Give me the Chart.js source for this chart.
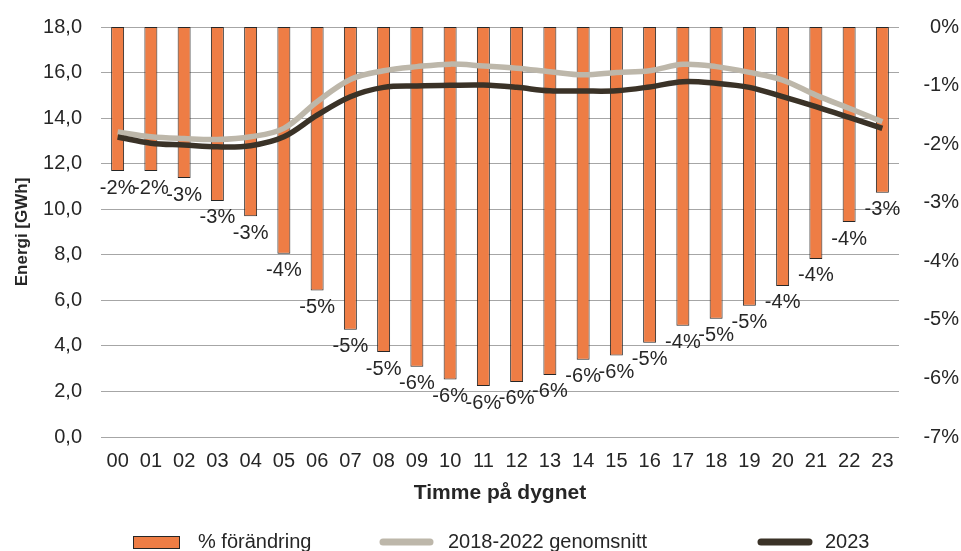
<!DOCTYPE html>
<html>
<head>
<meta charset="utf-8">
<script src="https://cdn.jsdelivr.net/npm/chart.js@4.4.1/dist/chart.umd.min.js"></script>
<style>
  html, body { margin: 0; padding: 0; background: #fff; }
  #wrap { width: 961px; height: 551px; }
</style>
</head>
<body>
<div id="wrap"><canvas id="energyChart"></canvas></div>
<script>
// Energi per timme på dygnet · 2023 jämfört med snitt 2018-2022

const hours = ['00','01','02','03','04','05','06','07','08','09','10','11',
               '12','13','14','15','16','17','18','19','20','21','22','23'];

// % förändring (höger axel)
const changePct = [-2.46, -2.46, -2.58, -2.97, -3.23, -3.87, -4.50, -5.17, -5.55, -5.80, -6.02, -6.13,
                   -6.06, -5.94, -5.68, -5.61, -5.39, -5.10, -4.98, -4.76, -4.42, -3.96, -3.33, -2.83];
const changeLabels = ['-2%','-2%','-3%','-3%','-3%','-4%','-5%','-5%','-5%','-6%','-6%','-6%',
                      '-6%','-6%','-6%','-6%','-5%','-4%','-5%','-5%','-4%','-4%','-4%','-3%'];

// GWh (vänster axel)
const avg2018_2022 = [13.39, 13.18, 13.10, 13.06, 13.18, 13.55, 14.72, 15.70, 16.08, 16.26, 16.37, 16.29,
                      16.19, 16.04, 15.90, 16.00, 16.08, 16.36, 16.26, 16.01, 15.67, 15.01, 14.43, 13.84];
const year2023 = [13.17, 12.90, 12.82, 12.74, 12.79, 13.18, 14.13, 14.94, 15.35, 15.41, 15.44, 15.45,
                  15.35, 15.20, 15.19, 15.20, 15.37, 15.60, 15.53, 15.35, 14.94, 14.50, 14.03, 13.55];

const FONT = "'Liberation Sans', Arial, sans-serif";
const TEXT = '#262626';
const ORANGE = '#ee7d45';
const GREY = '#bdb7aa';
const DARK = '#3a3227';

Chart.defaults.font.family = FONT;
Chart.defaults.font.size = 20;
Chart.defaults.color = TEXT;

// labels under each bar end
const barLabels = {
  id: 'barLabels',
  afterDraw(chart) {
    const meta = chart.getDatasetMeta(0);
    const ctx = chart.ctx;
    ctx.save();
    ctx.font = '20px ' + FONT;
    ctx.fillStyle = TEXT;
    ctx.textAlign = 'center';
    ctx.textBaseline = 'top';
    meta.data.forEach((bar, i) => ctx.fillText(changeLabels[i], bar.x, bar.y + 7));
    ctx.restore();
  }
};

// legend row at the bottom, drawn like the original
const bottomLegend = {
  id: 'bottomLegend',
  afterDraw(chart) {
    const ctx = chart.ctx;
    const y = 542;
    const ds = chart.data.datasets;
    ctx.save();
    ctx.font = '20px ' + FONT;
    ctx.textBaseline = 'middle';

    // bar swatch
    ctx.fillStyle = ds[0].backgroundColor;
    ctx.fillRect(133, 536, 47, 13);
    ctx.strokeStyle = ds[0].borderColor;
    ctx.lineWidth = 1;
    ctx.strokeRect(133.5, 536.5, 46, 12);
    ctx.fillStyle = TEXT;
    ctx.fillText(ds[0].label, 198, y);

    // line swatches
    ctx.lineCap = 'round';
    ctx.lineWidth = 7;
    [[ds[1], 383, 430, 448], [ds[2], 761, 809, 825]].forEach(([d, x0, x1, tx]) => {
      ctx.strokeStyle = d.borderColor;
      ctx.beginPath();
      ctx.moveTo(x0, y);
      ctx.lineTo(x1, y);
      ctx.stroke();
      ctx.fillText(d.label, tx, y);
    });
    ctx.restore();
  }
};

new Chart(document.getElementById('energyChart'), {
  data: {
    labels: hours,
    datasets: [
      {
        type: 'bar',
        label: '% förändring',
        data: changePct,
        yAxisID: 'y2',
        backgroundColor: ORANGE,
        borderColor: TEXT,
        borderWidth: 1,
        borderSkipped: false,
        barPercentage: 0.39,
        categoryPercentage: 1,
        order: 3
      },
      {
        type: 'line',
        label: '2018-2022 genomsnitt',
        data: avg2018_2022,
        yAxisID: 'y',
        borderColor: GREY,
        borderWidth: 5.5,
        pointRadius: 0,
        tension: 0.35,
        order: 2
      },
      {
        type: 'line',
        label: '2023',
        data: year2023,
        yAxisID: 'y',
        borderColor: DARK,
        borderWidth: 5.5,
        pointRadius: 0,
        tension: 0.35,
        order: 1
      }
    ]
  },
  options: {
    responsive: true,
    maintainAspectRatio: false,
    animation: false,
    layout: { padding: { top: 27, right: 2, left: 0, bottom: 0 } },
    plugins: {
      legend: { display: false },
      tooltip: { enabled: false }
    },
    scales: {
      x: {
        offset: true,
        grid: { display: false },
        border: { display: false },
        ticks: { padding: 4 },
        title: {
          display: true,
          text: 'Timme på dygnet',
          font: { size: 21, weight: 'bold' },
          padding: { top: 0, bottom: 45 }
        },
        afterFit: s => { s.height = 114; }
      },
      y: {
        position: 'left',
        min: 0,
        max: 18,
        ticks: {
          stepSize: 2,
          padding: 19,
          callback: v => v.toFixed(1).replace('.', ',')
        },
        grid: { color: '#a6a6a6', drawTicks: false },
        border: { display: false },
        title: {
          display: true,
          text: 'Energi [GWh]',
          font: { size: 17, weight: 'bold' },
          padding: { top: 12, bottom: 0 }
        },
        afterFit: s => { s.width = 101; s.paddingTop = 0; s.paddingBottom = 0; }
      },
      y2: {
        position: 'right',
        min: -7,
        max: 0,
        ticks: {
          stepSize: 1,
          crossAlign: 'far',
          callback: v => (v === 0 ? 0 : v) + '%'
        },
        grid: { display: false, drawTicks: false },
        border: { display: false },
        afterFit: s => { s.width = 60; s.paddingTop = 0; s.paddingBottom = 0; }
      }
    }
  },
  plugins: [barLabels, bottomLegend]
});
</script>
</body>
</html>
